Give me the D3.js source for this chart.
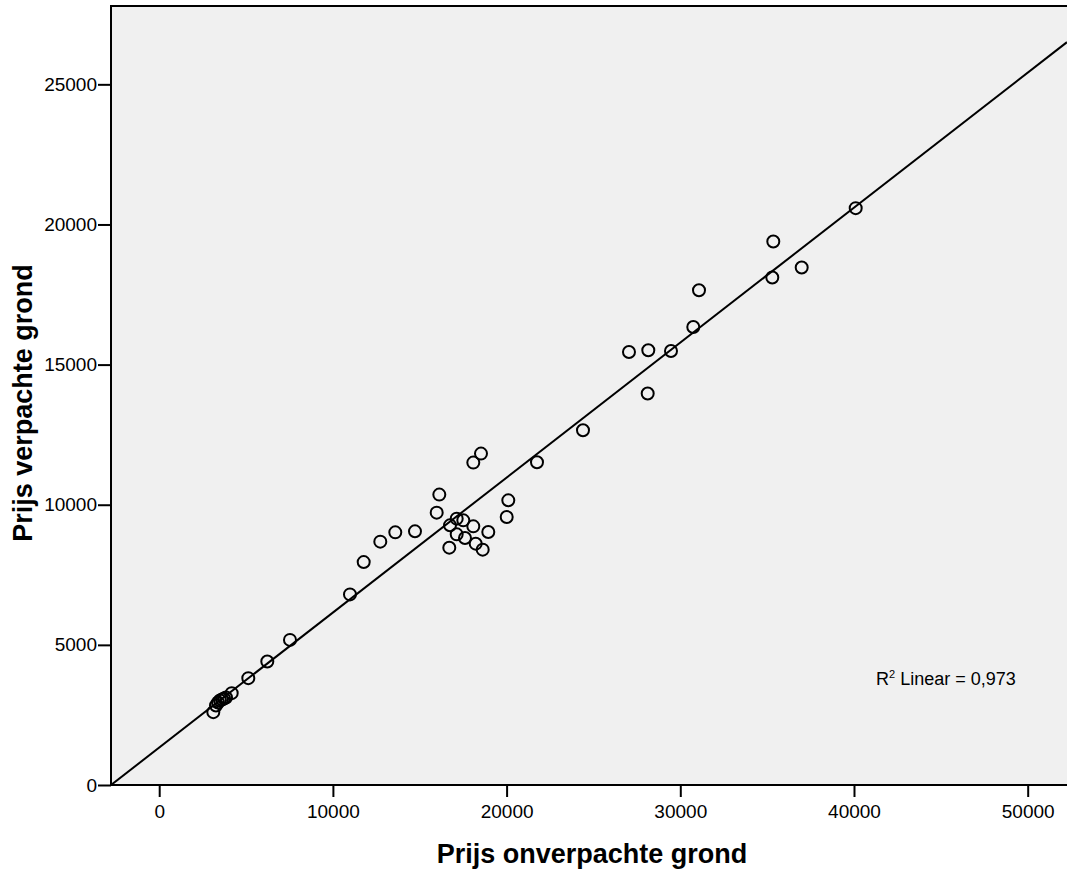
<!DOCTYPE html>
<html>
<head>
<meta charset="utf-8">
<script src="https://cdn.jsdelivr.net/npm/d3@7"></script>
<style>
  html, body { margin: 0; padding: 0; background: #fff; }
  svg text { font-family: "Liberation Sans", Arial, sans-serif; fill: #000; }
</style>
</head>
<body>
<svg id="chart"></svg>
<script>
// Prijs onverpachte grond (x) vs prijs verpachte grond (y)
const onverpacht = [3115, 3270, 3385, 3500, 3615, 3731, 3846, 4174, 5130, 6223, 7530,
  10984, 11773, 12729, 13592, 14726, 15976, 16126, 16701, 16741, 17127, 17507, 17127,
  17605, 18083, 18221, 18624, 18946, 18083, 18526, 20006, 20098, 21750, 24398, 27046,
  28158, 28123, 29465, 30748, 31077, 35354, 35296, 36989, 40098];
const verpacht = [2599, 2838, 2945, 3017, 3053, 3088, 3124, 3277, 3813, 4409, 5177,
  6801, 7954, 8683, 9015, 9051, 9718, 10361, 8468, 9265, 9504, 9443, 8943,
  8811, 9229, 8611, 8397, 9025, 11503, 11824, 9561, 10157, 11514, 12656, 15452,
  15512, 13967, 15487, 16344, 17654, 19393, 18108, 18465, 20582];

const xTicks = [0, 10000, 20000, 30000, 40000, 50000];
const yTicks = [0, 5000, 10000, 15000, 20000, 25000];

// linear fit line
const fitIntercept = 1336;
const fitSlope = 0.4816;
const rSquared = "0,973";

const W = 1067, H = 872;
const margin = {top: 6, left: 111, bottom: 87};

const svg = d3.select("#chart").attr("width", W).attr("height", H);

const x = d3.scaleLinear().domain([-2775, 52263]).range([margin.left, W]);
const y = d3.scaleLinear().domain([0, 27795]).range([H - margin.bottom, margin.top]);

// plot background
svg.append("rect")
  .attr("x", margin.left).attr("y", margin.top)
  .attr("width", W - margin.left + 5).attr("height", H - margin.bottom - margin.top)
  .attr("fill", "#f0f0f0")
  .attr("stroke", "#000").attr("stroke-width", 2);

svg.append("clipPath").attr("id", "clip")
  .append("rect")
  .attr("x", margin.left).attr("y", margin.top)
  .attr("width", W - margin.left).attr("height", H - margin.bottom - margin.top);

// x axis
const xAxis = svg.append("g")
  .attr("transform", "translate(0," + (H - margin.bottom) + ")")
  .call(d3.axisBottom(x).tickValues(xTicks).tickSize(12).tickPadding(8).tickFormat(d3.format("d")));
xAxis.select(".domain").remove();
xAxis.selectAll(".tick line").attr("stroke", "#000").attr("stroke-width", 2);
xAxis.selectAll("text").style("font-size", "19px").attr("font-family", null);

// y axis
const yAxis = svg.append("g")
  .attr("transform", "translate(" + margin.left + ",0)")
  .call(d3.axisLeft(y).tickValues(yTicks).tickSize(13).tickPadding(1).tickFormat(d3.format("d")));
yAxis.select(".domain").remove();
yAxis.selectAll(".tick line").attr("stroke", "#000").attr("stroke-width", 2);
yAxis.selectAll("text").style("font-size", "19px").attr("font-family", null);

// frame lines on top
svg.append("line")
  .attr("x1", margin.left).attr("x2", W)
  .attr("y1", H - margin.bottom).attr("y2", H - margin.bottom)
  .attr("stroke", "#000").attr("stroke-width", 2);
svg.append("line")
  .attr("x1", margin.left).attr("x2", margin.left)
  .attr("y1", margin.top).attr("y2", H - margin.bottom)
  .attr("stroke", "#000").attr("stroke-width", 2);

// fit line
const xd = x.domain();
svg.append("line")
  .attr("clip-path", "url(#clip)")
  .attr("x1", x(xd[0])).attr("y1", y(fitIntercept + fitSlope * xd[0]))
  .attr("x2", x(xd[1])).attr("y2", y(fitIntercept + fitSlope * xd[1]))
  .attr("stroke", "#000").attr("stroke-width", 2);

// points
svg.append("g")
  .selectAll("circle")
  .data(onverpacht.map((v, i) => [v, verpacht[i]]))
  .join("circle")
  .attr("cx", d => x(d[0]))
  .attr("cy", d => y(d[1]))
  .attr("r", 6)
  .attr("fill", "none")
  .attr("stroke", "#000")
  .attr("stroke-width", 2);

// R² annotation
const ann = svg.append("text")
  .attr("x", 876).attr("y", 685)
  .style("font-size", "18px");
ann.append("tspan").text("R");
ann.append("tspan").text("2").attr("dy", -7).style("font-size", "11px");
ann.append("tspan").text(" Linear = " + rSquared).attr("dy", 7);

// axis titles
svg.append("text")
  .attr("x", 592).attr("y", 863)
  .attr("text-anchor", "middle")
  .style("font-size", "27px").style("font-weight", "bold")
  .text("Prijs onverpachte grond");

svg.append("text")
  .attr("transform", "translate(32,403) rotate(-90)")
  .attr("text-anchor", "middle")
  .style("font-size", "27px").style("font-weight", "bold")
  .text("Prijs verpachte grond");
</script>
</body>
</html>
